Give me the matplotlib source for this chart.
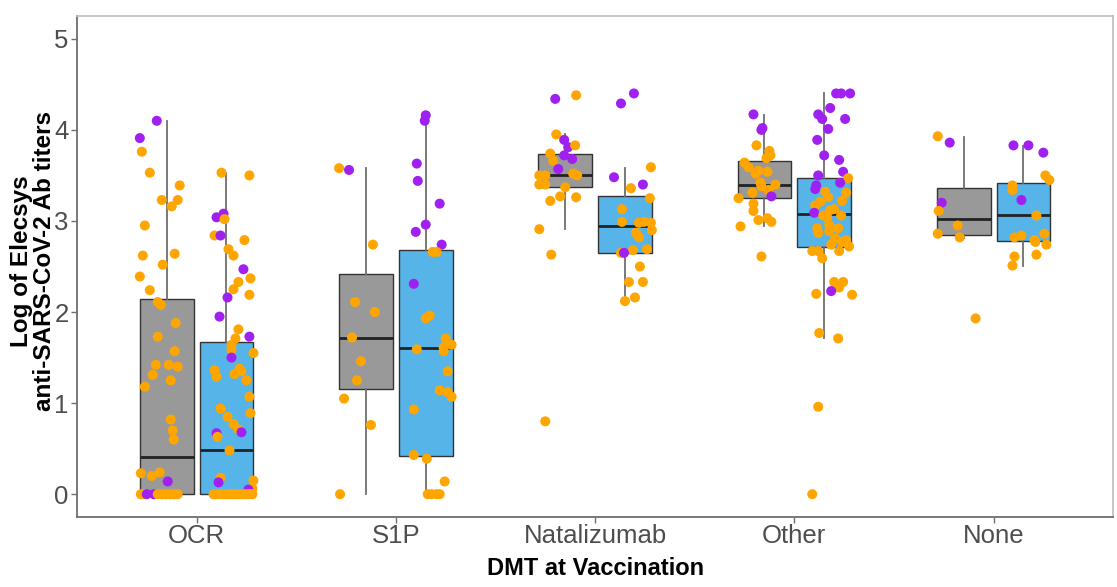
import numpy as np
import matplotlib
matplotlib.use("Agg")
import matplotlib.pyplot as plt

plt.rcParams['font.family'] = ['Liberation Sans', 'DejaVu Sans']

# categories on the x axis
categories = ["OCR", "S1P", "Natalizumab", "Other", "None"]

# box statistics (gray box, then blue box per category)
gray_lo = [0.00, 0.00, 2.91, 2.94, 2.81]
gray_q1 = [0.00, 1.15, 3.37, 3.25, 2.85]
gray_med = [0.41, 1.72, 3.50, 3.39, 3.02]
gray_q3 = [2.14, 2.42, 3.73, 3.66, 3.36]
gray_hi = [4.10, 3.58, 3.95, 4.16, 3.92]

blue_lo = [0.00, 0.00, 2.12, 1.71, 2.51]
blue_q1 = [0.00, 0.42, 2.65, 2.71, 2.78]
blue_med = [0.49, 1.60, 2.94, 3.08, 3.06]
blue_q3 = [1.67, 2.68, 3.27, 3.47, 3.42]
blue_hi = [3.53, 4.17, 3.58, 4.40, 3.82]

# jittered points: (value, jitter offset from box centre, 'o' orange / 'p' purple)
ocr_gray = [
    (4.10, -0.050, 'p'), (3.91, -0.135, 'p'), (3.76, -0.125, 'o'), (3.53, -0.085, 'o'),
    (3.39, 0.065, 'o'), (3.23, -0.025, 'o'), (3.23, 0.055, 'o'), (3.16, 0.025, 'o'),
    (2.95, -0.110, 'o'), (2.62, -0.120, 'o'), (2.64, 0.040, 'o'), (2.52, -0.020, 'o'),
    (2.39, -0.135, 'o'), (2.24, -0.085, 'o'), (2.11, -0.045, 'o'), (2.08, -0.030, 'o'),
    (1.88, 0.045, 'o'), (1.73, -0.045, 'o'), (1.57, 0.040, 'o'), (1.42, -0.055, 'o'),
    (1.42, 0.010, 'o'), (1.40, 0.055, 'o'), (1.31, -0.070, 'o'), (1.25, 0.020, 'o'),
    (1.18, -0.110, 'o'), (0.82, 0.020, 'o'), (0.70, 0.030, 'o'), (0.60, 0.035, 'o'),
    (0.23, -0.130, 'o'), (0.20, -0.075, 'o'), (0.24, -0.035, 'o'), (0.14, 0.005, 'p'),
    (0.0, -0.130, 'o'), (0.0, -0.115, 'o'), (0.0, -0.100, 'p'), (0.0, -0.065, 'p'),
    (0.0, -0.045, 'o'), (0.0, -0.025, 'o'), (0.0, -0.005, 'o'), (0.0, 0.015, 'o'),
    (0.0, 0.035, 'o'), (0.0, 0.055, 'o'),
]
ocr_blue = [
    (3.53, -0.025, 'o'), (3.50, 0.115, 'o'), (3.04, -0.050, 'p'), (3.08, -0.015, 'p'),
    (3.02, -0.010, 'o'), (2.84, -0.060, 'o'), (2.84, -0.030, 'p'), (2.79, 0.090, 'o'),
    (2.69, 0.010, 'o'), (2.62, 0.035, 'o'), (2.47, 0.085, 'p'), (2.37, 0.120, 'o'),
    (2.33, 0.060, 'o'), (2.25, 0.035, 'o'), (2.19, 0.115, 'o'), (2.16, 0.005, 'p'),
    (1.95, -0.035, 'p'), (1.81, 0.060, 'o'), (1.71, 0.045, 'o'), (1.73, 0.115, 'p'),
    (1.64, 0.025, 'o'), (1.58, 0.025, 'o'), (1.55, 0.135, 'o'), (1.50, 0.025, 'p'),
    (1.36, -0.060, 'o'), (1.29, -0.050, 'o'), (1.38, 0.065, 'o'), (1.32, 0.040, 'o'),
    (1.35, 0.075, 'o'), (1.25, 0.100, 'o'), (1.07, 0.115, 'o'), (0.89, 0.120, 'o'),
    (0.94, -0.030, 'o'), (0.85, 0.005, 'o'), (0.77, 0.035, 'o'), (0.71, 0.060, 'o'),
    (0.68, 0.075, 'p'), (0.67, -0.050, 'p'), (0.63, -0.045, 'o'), (0.48, 0.015, 'o'),
    (0.18, -0.030, 'o'), (0.13, -0.040, 'p'), (0.15, 0.135, 'o'), (0.06, 0.130, 'o'),
    (0.05, 0.110, 'p'),
    (0.0, -0.065, 'o'), (0.0, -0.050, 'o'), (0.0, -0.035, 'o'), (0.0, -0.020, 'o'),
    (0.0, -0.005, 'o'), (0.0, 0.010, 'o'), (0.0, 0.025, 'o'), (0.0, 0.040, 'o'),
    (0.0, 0.055, 'o'), (0.0, 0.070, 'o'), (0.0, 0.085, 'o'), (0.0, 0.100, 'o'),
    (0.0, 0.115, 'o'), (0.0, 0.130, 'o'),
]
s1p_gray = [
    (3.58, -0.135, 'o'), (3.56, -0.085, 'p'), (2.74, 0.035, 'o'), (2.11, -0.055, 'o'),
    (2.00, 0.045, 'o'), (1.72, -0.070, 'o'), (1.46, -0.025, 'o'), (1.25, -0.045, 'o'),
    (1.05, -0.110, 'o'), (0.76, 0.025, 'o'), (0.0, -0.130, 'o'),
]
s1p_blue = [
    (4.16, 0.000, 'p'), (4.10, -0.005, 'p'), (3.63, -0.045, 'p'), (3.44, -0.040, 'p'),
    (3.19, 0.070, 'p'), (2.96, 0.000, 'p'), (2.88, -0.050, 'p'), (2.74, 0.080, 'p'),
    (2.66, 0.035, 'o'), (2.66, 0.055, 'o'), (2.31, -0.060, 'p'), (1.93, 0.000, 'o'),
    (1.96, 0.020, 'o'), (1.71, 0.100, 'o'), (1.64, 0.130, 'o'), (1.61, 0.090, 'o'),
    (1.57, 0.090, 'o'), (1.59, -0.045, 'o'), (1.35, 0.110, 'o'), (1.14, 0.070, 'o'),
    (1.12, 0.110, 'o'), (1.07, 0.130, 'o'), (0.93, -0.060, 'o'), (0.43, -0.060, 'o'),
    (0.39, 0.005, 'o'), (0.14, 0.095, 'o'),
    (0.0, 0.010, 'o'), (0.0, 0.030, 'o'), (0.0, 0.055, 'o'), (0.0, 0.070, 'o'),
]
nat_gray = [
    (4.34, -0.050, 'p'), (4.38, 0.055, 'o'), (3.95, -0.045, 'o'), (3.89, -0.005, 'p'),
    (3.81, 0.015, 'p'), (3.83, 0.050, 'o'), (3.74, -0.075, 'o'), (3.72, -0.005, 'p'),
    (3.68, 0.035, 'p'), (3.66, -0.060, 'o'), (3.57, -0.035, 'p'), (3.50, -0.130, 'o'),
    (3.50, -0.100, 'o'), (3.52, 0.040, 'o'), (3.50, 0.060, 'o'), (3.40, -0.130, 'o'),
    (3.40, -0.100, 'o'), (3.37, 0.000, 'o'), (3.27, -0.025, 'o'), (3.26, 0.055, 'o'),
    (3.22, -0.075, 'o'), (2.91, -0.130, 'o'), (2.63, -0.070, 'o'), (0.80, -0.100, 'o'),
]
nat_blue = [
    (4.29, -0.020, 'p'), (4.40, 0.045, 'p'), (3.59, 0.130, 'o'), (3.48, -0.055, 'p'),
    (3.40, 0.090, 'p'), (3.36, 0.030, 'o'), (3.25, 0.125, 'o'), (3.13, -0.015, 'o'),
    (2.99, -0.015, 'o'), (2.98, 0.070, 'o'), (2.99, 0.095, 'o'), (2.98, 0.130, 'o'),
    (2.90, 0.135, 'o'), (2.87, 0.055, 'o'), (2.82, 0.070, 'o'), (2.69, 0.110, 'o'),
    (2.68, 0.040, 'o'), (2.65, -0.020, 'o'), (2.65, -0.005, 'p'), (2.50, 0.075, 'o'),
    (2.33, 0.020, 'o'), (2.33, 0.090, 'o'), (2.16, 0.050, 'o'), (2.12, 0.000, 'o'),
]
oth_gray = [
    (4.17, -0.055, 'p'), (4.02, -0.010, 'p'), (4.00, -0.015, 'p'), (3.83, -0.040, 'o'),
    (3.77, 0.025, 'o'), (3.72, 0.030, 'o'), (3.69, 0.010, 'o'), (3.64, -0.100, 'o'),
    (3.59, -0.080, 'o'), (3.55, -0.030, 'o'), (3.54, 0.015, 'o'), (3.52, -0.045, 'o'),
    (3.42, -0.020, 'o'), (3.38, -0.015, 'o'), (3.40, 0.055, 'o'), (3.34, 0.020, 'o'),
    (3.31, -0.060, 'o'), (3.27, 0.035, 'p'), (3.25, -0.130, 'o'), (3.19, -0.055, 'o'),
    (3.11, -0.055, 'o'), (3.03, 0.015, 'o'), (3.01, -0.030, 'o'), (2.99, 0.035, 'o'),
    (2.94, -0.120, 'o'), (2.61, -0.015, 'o'),
]
oth_blue = [
    (4.40, 0.060, 'p'), (4.40, 0.085, 'p'), (4.40, 0.130, 'p'), (4.24, 0.030, 'p'),
    (4.17, -0.030, 'p'), (4.12, -0.010, 'p'), (4.12, 0.105, 'p'), (4.01, 0.020, 'p'),
    (3.89, -0.035, 'p'), (3.72, 0.000, 'p'), (3.67, 0.075, 'p'), (3.54, 0.095, 'p'),
    (3.50, -0.030, 'p'), (3.47, 0.120, 'o'), (3.42, 0.080, 'p'), (3.39, -0.040, 'p'),
    (3.35, -0.045, 'p'), (3.32, 0.005, 'o'), (3.31, 0.110, 'o'), (3.26, 0.020, 'o'),
    (3.22, 0.090, 'o'), (3.21, -0.020, 'o'), (3.17, -0.045, 'o'), (3.12, 0.030, 'o'),
    (3.13, 0.050, 'o'), (3.09, -0.050, 'p'), (3.06, -0.005, 'o'), (3.04, 0.015, 'o'),
    (3.06, 0.085, 'o'), (2.96, 0.025, 'o'), (2.92, -0.035, 'o'), (2.92, 0.070, 'o'),
    (2.87, -0.030, 'o'), (2.89, 0.025, 'o'), (2.81, 0.055, 'o'), (2.79, 0.110, 'o'),
    (2.77, 0.090, 'o'), (2.74, 0.035, 'o'), (2.72, 0.125, 'o'), (2.67, -0.060, 'o'),
    (2.67, -0.030, 'o'), (2.67, 0.075, 'o'), (2.59, -0.010, 'o'), (2.33, 0.050, 'o'),
    (2.33, 0.095, 'o'), (2.27, 0.075, 'o'), (2.23, 0.035, 'p'), (2.20, -0.040, 'o'),
    (2.19, 0.140, 'o'), (1.77, -0.025, 'o'), (1.71, 0.070, 'o'), (0.96, -0.030, 'o'),
    (0.0, -0.060, 'o'),
]
none_gray = [
    (3.93, -0.130, 'o'), (3.86, -0.070, 'p'), (3.20, -0.110, 'p'), (3.11, -0.125, 'o'),
    (2.95, -0.030, 'o'), (2.86, -0.130, 'o'), (2.82, -0.020, 'o'), (1.93, 0.060, 'o'),
]
none_blue = [
    (3.83, -0.050, 'p'), (3.83, 0.025, 'p'), (3.75, 0.100, 'p'), (3.50, 0.110, 'o'),
    (3.45, 0.130, 'o'), (3.39, -0.055, 'o'), (3.34, -0.055, 'o'), (3.23, -0.010, 'p'),
    (3.06, 0.065, 'o'), (2.82, -0.045, 'o'), (2.84, -0.010, 'o'), (2.79, 0.055, 'o'),
    (2.77, 0.060, 'o'), (2.86, 0.105, 'o'), (2.74, 0.115, 'o'), (2.63, 0.065, 'o'),
    (2.61, -0.045, 'o'), (2.51, -0.055, 'o'),
]

gray_points = [ocr_gray, s1p_gray, nat_gray, oth_gray, none_gray]
blue_points = [ocr_blue, s1p_blue, nat_blue, oth_blue, none_blue]

GRAY = "#999999"
BLUE = "#56B4E9"
ORANGE = "#FFA500"
PURPLE = "#A020F0"
dodge = 0.15
width = 0.27


def box_stats(lo, q1, med, q3, hi):
    return [dict(whislo=a, q1=b, med=c, q3=d, whishi=e, fliers=[])
            for a, b, c, d, e in zip(lo, q1, med, q3, hi)]


def main():
    fig = plt.figure(figsize=(11.17, 5.87), dpi=100)
    ax = fig.add_axes([0.069, 0.1193, 0.9275, 0.8534])

    xpos = np.arange(len(categories))
    for stats, pos, col in [
        (box_stats(gray_lo, gray_q1, gray_med, gray_q3, gray_hi), xpos - dodge, GRAY),
        (box_stats(blue_lo, blue_q1, blue_med, blue_q3, blue_hi), xpos + dodge, BLUE),
    ]:
        ax.bxp(stats, positions=pos, widths=width, patch_artist=True,
               showfliers=False, showcaps=False,
               boxprops=dict(facecolor=col, edgecolor="#333333", linewidth=1.0),
               whiskerprops=dict(color="#6e6e6e", linewidth=1.3),
               medianprops=dict(color="#222222", linewidth=2.0),
               zorder=1)

    for groups, shift in [(gray_points, -dodge), (blue_points, dodge)]:
        for i, pts in enumerate(groups):
            ys = [p[0] for p in pts]
            xs = [i + shift + p[1] for p in pts]
            cs = [PURPLE if p[2] == 'p' else ORANGE for p in pts]
            ax.scatter(xs, ys, s=52, c=cs, linewidths=0, zorder=3)

    ax.set_xlim(-0.6, 4.6)
    ax.set_ylim(-0.25, 5.25)
    ax.set_xticks(xpos)
    ax.set_xticklabels(categories)
    ax.set_yticks([0, 1, 2, 3, 4, 5])
    ax.tick_params(axis="both", labelsize=18.5, labelcolor="#4d4d4d",
                   color="#6e6e6e", length=4, width=1, pad=2)
    ax.tick_params(axis="x", pad=1)

    for side in ["top", "right"]:
        ax.spines[side].set_color("#bdbdbd")
        ax.spines[side].set_linewidth(1.2)
    for side in ["left", "bottom"]:
        ax.spines[side].set_color("#6e6e6e")
        ax.spines[side].set_linewidth(1.3)

    ax.set_xlabel("DMT at Vaccination", fontsize=17, fontweight="bold")
    ax.xaxis.set_label_coords(0.5, -0.08)
    ax.set_ylabel("Log of Elecsys\nanti-SARS-CoV-2 Ab titers", fontsize=17.5,
                  fontweight="bold", linespacing=1.0)
    ax.yaxis.set_label_coords(-0.02, 0.51)

    fig.savefig("out.png", dpi=100)


if __name__ == "__main__":
    main()
